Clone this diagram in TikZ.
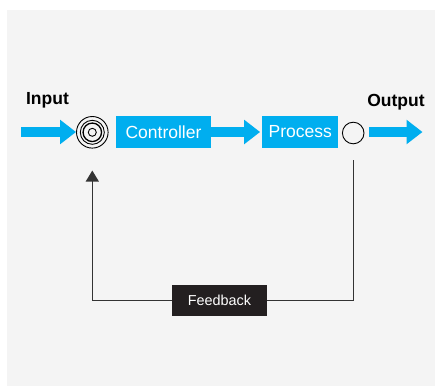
\documentclass[tikz,border=0pt]{standalone}
\usepackage{fontspec}
\setmainfont{Liberation Sans}
\usetikzlibrary{arrows.meta}
\definecolor{cblue}{HTML}{00AEEF}
\definecolor{bggray}{HTML}{F4F4F4}
\definecolor{fbdark}{HTML}{231F20}
\definecolor{lgray}{HTML}{333333}
\tikzset{
  bluebox/.style={fill=cblue, text=white, inner sep=0pt, minimum height=32.5pt,
    font=\fontsize{17.5}{20}\selectfont},
  bigarrow/.style={draw=cblue, line width=10pt, -{Triangle[length=16pt,width=23.5pt]}, color=cblue},
  lbl/.style={font=\fontsize{17.5}{20}\selectfont\bfseries, anchor=base, inner sep=0pt},
  ring/.style={circle, draw=black, line width=0.9pt, inner sep=0pt, fill=none},
  fbline/.style={draw=lgray, line width=1.2pt},
  fbbox/.style={fill=fbdark, text=white, inner sep=0pt, minimum width=95pt, minimum height=31pt,
    font=\fontsize{14.4}{17}\selectfont}
}
\begin{document}
\begin{tikzpicture}[x=1pt,y=-1pt]
\useasboundingbox (0,0) rectangle (435,386);
\fill[bggray] (7,10) rectangle (435,386);

% labels
\node[lbl] (inlbl) at (47.5,104) {Input};
\node[lbl] (outlbl) at (396,106.5) {Output};

% summing junction
\node[ring, minimum size=31.6pt] (sum) at (92.3,132.3) {};
\node[ring, minimum size=24pt] (sumb) at (92.3,132.3) {};
\node[ring, minimum size=18.5pt, line width=1.3pt] (sumc) at (92.3,132.3) {};
\node[ring, minimum size=8pt] (sumd) at (92.3,132.3) {};

% boxes
\node[bluebox, minimum width=95pt] (ctrl) at (163.5,132) {Controller};
\node[bluebox, minimum width=76pt] (proc) at (300.3,132) {Process};

% output circle
\node[ring, minimum size=21.6pt] (outc) at (353.2,133) {};

% arrows
\coordinate (instart) at (21,132);
\coordinate (outend) at (422.5,132);
\draw[bigarrow] (instart) -- (sum.west |- instart);
\draw[bigarrow, shorten >=2pt] (ctrl.east) -- (proc.west);
\draw[bigarrow, shorten <=5pt] (outc.east |- outend) -- (outend);

% feedback
\coordinate (fbpos) at (219.5,300.5);
\draw[fbline, shorten <=16pt, shorten >=22pt, -{Triangle[length=11pt,width=13pt]}, lgray]
  (outc.south) |- (fbpos) -| (sum.south);
\node[fbbox] (fb) at (fbpos) {Feedback};
\end{tikzpicture}
\end{document}
